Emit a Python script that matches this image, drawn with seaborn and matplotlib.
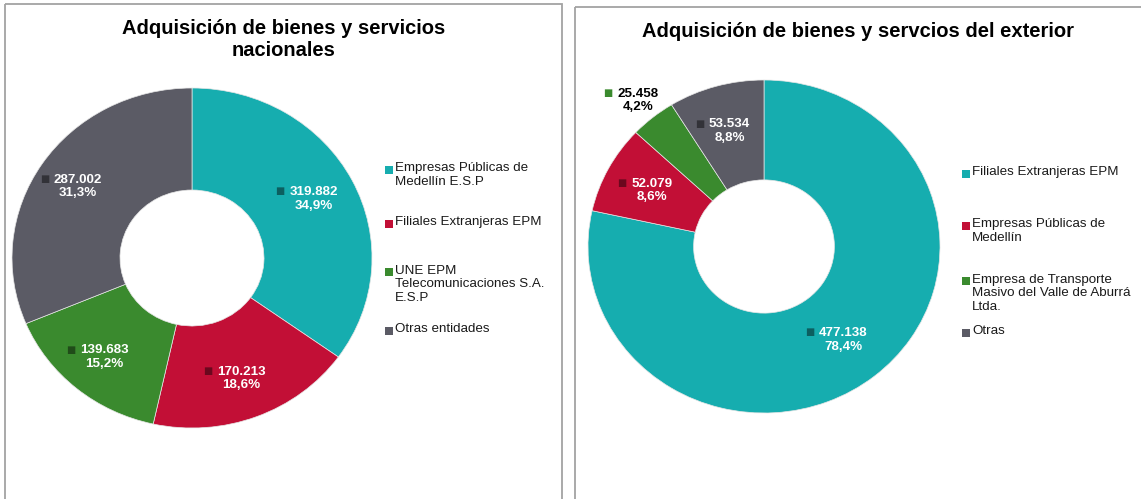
import numpy as np
import matplotlib
matplotlib.use("Agg")
import matplotlib.pyplot as plt
import matplotlib.colors as mcolors
from matplotlib.patches import Rectangle
import seaborn as sns

# datos: adquisiciones nacionales
nac_labels = ["Empresas Públicas de\nMedellín E.S.P", "Filiales Extranjeras EPM",
              "UNE EPM\nTelecomunicaciones S.A.\nE.S.P", "Otras entidades"]
nac_values = [319882, 170213, 139683, 287002]

# datos: adquisiciones del exterior
ext_labels = ["Filiales Extranjeras EPM", "Empresas Públicas de\nMedellín",
              "Empresa de Transporte\nMasivo del Valle de Aburrá\nLtda.", "Otras"]
ext_values = [477138, 52079, 25458, 53534]

title_nac = "Adquisición de bienes y servicios\nnacionales"
title_ext = "Adquisición de bienes y servcios del exterior"

# colores por entidad
col_cyan = "#16adaf"
col_red = "#c20f36"
col_green = "#3a8a2e"
col_gray = "#5b5b65"
nac_colors = sns.color_palette([col_cyan, col_red, col_green, col_gray])
ext_colors = sns.color_palette([col_cyan, col_red, col_green, col_gray])

sns.set_theme(style="white")
plt.rcParams['font.family'] = ['Liberation Sans', 'DejaVu Sans']

W, H = 1141, 499
fig = plt.figure(figsize=(W / 100, H / 100), dpi=100)

# capa de fondo en pixeles (marcos, titulos, leyendas)
bg = fig.add_axes([0, 0, 1, 1])
bg.set_xlim(0, W)
bg.set_ylim(H, 0)
bg.axis('off')
bg.add_patch(Rectangle((5, 4), 557, 560, fill=False, ec='#a3a3a3', lw=1.3))
bg.add_patch(Rectangle((575, 7), 620, 560, fill=False, ec='#a3a3a3', lw=1.3))


def fmt_num(v):
    return f"{v:,}".replace(",", ".")


def fmt_pct(p):
    return f"{p:.1f}".replace(".", ",") + "%"


def darker(c, f=0.55):
    c = np.array(mcolors.to_rgb(c))
    return tuple(c * f)


def donut(rect, values, colors, label_r):
    ax = fig.add_axes(rect)
    wedges, _ = ax.pie(values, colors=colors, startangle=90, counterclock=False,
                       wedgeprops=dict(width=0.6, edgecolor='#e6e6e6', linewidth=0.5))
    ax.set_xlim(-1, 1)
    ax.set_ylim(-1, 1)
    ax.set_aspect('auto')
    total = float(sum(values))
    for w, v, c in zip(wedges, values, colors):
        pct = 100 * v / total
        mid = np.deg2rad((w.theta1 + w.theta2) / 2)
        outside = pct < 5
        r = 1.13 if outside else label_r
        x, y = r * np.cos(mid), r * np.sin(mid)
        txt = fmt_num(v) + "\n" + fmt_pct(pct)
        ax.text(x, y, txt, ha='center', va='center', fontsize=9.6,
                fontweight='bold', color='black' if outside else 'white',
                linespacing=1.15)
        first_w = len(fmt_num(v)) * 7.0
        ax.annotate("■", xy=(x, y), xytext=(-(first_w / 2 + 9) * 0.72, 5.5),
                    textcoords='offset points', ha='center', va='center',
                    fontsize=7, color=c if outside else darker(c),
                    family=['DejaVu Sans'])
    return ax


donut([12 / W, (H - 428) / H, 360 / W, 340 / H], nac_values, nac_colors, 0.76)
donut([588 / W, (H - 413) / H, 352 / W, 333 / H], ext_values, ext_colors, 0.72)

bg.text(283.5, 39.5, title_nac, ha='center', va='center', fontsize=14.5,
        fontweight='bold', color='black', linespacing=1.25)
bg.text(858, 31, title_ext, ha='center', va='center', fontsize=14.5,
        fontweight='bold', color='black')


def legend(labels, colors, sq_x, txt_x, first_y):
    for lab, c, y in zip(labels, colors, first_y):
        bg.scatter([sq_x], [y], marker='s', s=36, color=c, linewidths=0)
        bg.text(txt_x, y - 7.5, lab, ha='left', va='top', fontsize=9.6,
                color='#1a1a1a', linespacing=1.2)


legend(nac_labels, nac_colors, 389, 395, [170, 224, 272, 331])
legend(ext_labels, ext_colors, 966, 972, [174, 226, 281, 333])

fig.savefig("out.png", dpi=100)
